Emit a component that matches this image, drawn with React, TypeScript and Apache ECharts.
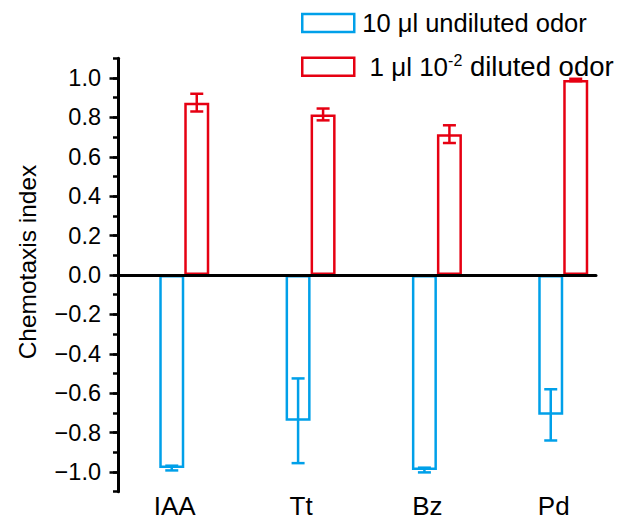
import React, { useEffect, useRef } from "react";
import * as echarts from "echarts";

const categories = ["IAA", "Tt", "Bz", "Pd"];
const undilutedName = "10 μl undiluted odor";
const dilutedName = "1 μl 10-2 diluted odor";
const undilutedMean = [-0.98, -0.74, -0.99, -0.71];
const undilutedErr = [0.012, 0.215, 0.012, 0.13];
const dilutedMean = [0.875, 0.815, 0.715, 0.99];
const dilutedErr = [0.045, 0.03, 0.045, 0.006];

const BLUE = "#00a0e9";
const RED = "#e60012";
const FONT = "'Liberation Sans', Arial, sans-serif";
const BAR_W = 25;

function errorSeries(means: number[], errs: number[], color: string, offset: number) {
  return {
    type: "custom",
    xAxisIndex: 2,
    yAxisIndex: 2,
    z: 5,
    encode: { x: 0, y: 1 },
    data: means.map((m, i) => [i, m, errs[i]]),
    renderItem: (params: any, api: any) => {
      const x = api.value(0);
      const v = api.value(1);
      const e = api.value(2);
      const top = api.coord([x, v + e]);
      const bot = api.coord([x, v - e]);
      const cx = top[0] + offset;
      const hw = 6.5;
      const style = { stroke: color, lineWidth: 2.5, fill: "none" };
      return {
        type: "group",
        children: [
          { type: "line", shape: { x1: cx, y1: top[1], x2: cx, y2: bot[1] }, style },
          { type: "line", shape: { x1: cx - hw, y1: top[1], x2: cx + hw, y2: top[1] }, style },
          { type: "line", shape: { x1: cx - hw, y1: bot[1], x2: cx + hw, y2: bot[1] }, style },
        ],
      };
    },
  };
}

export default function App() {
  const ref = useRef<HTMLDivElement>(null);
  useEffect(() => {
    if (!ref.current) return;
    const chart = echarts.init(ref.current, undefined, { renderer: "svg" });
    const option: any = {
      animation: false,
      backgroundColor: "#ffffff",
      textStyle: { fontFamily: FONT },
      grid: [
        { left: 118, right: 35, top: 58.3, height: 433.4 },
        { left: 118, right: 35, top: 78, height: 394 },
        { left: 121.1, right: 4.6, top: 78, height: 394 },
      ],
      xAxis: [
        {
          gridIndex: 0,
          type: "category",
          data: categories,
          z: 10,
          axisLine: { show: true, onZero: true, lineStyle: { color: "#000", width: 3 } },
          axisTick: { show: false },
          axisLabel: { show: false },
          splitLine: { show: false },
        },
        { gridIndex: 1, type: "category", data: categories, show: false },
        {
          gridIndex: 2,
          type: "category",
          data: categories,
          position: "bottom",
          axisLine: { show: false, onZero: false },
          axisTick: { show: false },
          axisLabel: {
            fontSize: 26,
            color: "#000",
            fontFamily: FONT,
            margin: 21,
            padding: [0, 19, 0, 0],
          },
          splitLine: { show: false },
        },
      ],
      yAxis: [
        {
          gridIndex: 0,
          type: "value",
          min: -1.1,
          max: 1.1,
          interval: 0.1,
          z: 10,
          axisLine: { show: true, lineStyle: { color: "#000", width: 3 } },
          axisTick: { show: true, length: 5, lineStyle: { color: "#000", width: 2.5 } },
          axisLabel: { show: false },
          splitLine: { show: false },
        },
        {
          gridIndex: 1,
          type: "value",
          min: -1,
          max: 1,
          interval: 0.2,
          z: 10,
          axisLine: { show: false },
          axisTick: { show: true, length: 8.5, lineStyle: { color: "#000", width: 2.5 } },
          axisLabel: {
            fontSize: 23.5,
            color: "#000",
            fontFamily: FONT,
            margin: 17,
            formatter: (v: number) =>
              Math.abs(v) < 1e-9 ? "0.0" : v < 0 ? "\u2212" + Math.abs(v).toFixed(1) : v.toFixed(1),
          },
          splitLine: { show: false },
        },
        { gridIndex: 2, type: "value", min: -1, max: 1, show: false },
      ],
      legend: [
        {
          data: [
            {
              name: undilutedName,
              icon: "rect",
              itemStyle: { color: "#fff", borderColor: BLUE, borderWidth: 2.5 },
            },
          ],
          orient: "vertical",
          left: 301,
          top: 10,
          itemWidth: 52,
          itemHeight: 18,
          padding: 0,
          selectedMode: false,
          textStyle: { fontSize: 25.5, color: "#000", fontFamily: FONT, padding: [0, 0, 0, 3] },
        },
        {
          data: [
            {
              name: dilutedName,
              icon: "rect",
              itemStyle: { color: "#fff", borderColor: RED, borderWidth: 2.5 },
            },
          ],
          orient: "vertical",
          left: 301,
          top: 52.7,
          itemWidth: 52,
          itemHeight: 18,
          padding: 0,
          selectedMode: false,
          formatter: () => "{a| 1 μl 10}{sup|-2}{b| diluted odor}",
          textStyle: {
            fontSize: 25.5,
            color: "#000",
            fontFamily: FONT,
            padding: [0, 0, 0, 3],
            rich: {
              a: { fontSize: 26, color: "#000", fontFamily: FONT },
              sup: { fontSize: 16, color: "#000", fontFamily: FONT, padding: [0, 0, 12, 0] },
              b: { fontSize: 27.5, color: "#000", fontFamily: FONT },
            },
          },
        },
      ],
      graphic: [
        {
          type: "text",
          x: 27,
          y: 262,
          rotation: Math.PI / 2,
          style: {
            text: "Chemotaxis index",
            fontSize: 24.5,
            fontFamily: FONT,
            fill: "#000",
            textAlign: "center",
            textVerticalAlign: "middle",
          },
        },
      ],
      series: [
        {
          name: undilutedName,
          type: "bar",
          xAxisIndex: 2,
          yAxisIndex: 2,
          data: undilutedMean,
          barWidth: BAR_W,
          barGap: "0%",
          itemStyle: { color: "#fff", borderColor: BLUE, borderWidth: 2.5 },
        },
        {
          name: dilutedName,
          type: "bar",
          xAxisIndex: 2,
          yAxisIndex: 2,
          data: dilutedMean,
          barWidth: BAR_W,
          barGap: "0%",
          itemStyle: { color: "#fff", borderColor: RED, borderWidth: 2.5 },
        },
        errorSeries(undilutedMean, undilutedErr, BLUE, -BAR_W / 2),
        errorSeries(dilutedMean, dilutedErr, RED, BAR_W / 2),
      ],
    };
    chart.setOption(option);
    return () => chart.dispose();
  }, []);
  return (
    <div
      ref={ref}
      style={{ position: "fixed", left: 0, top: 0, width: 631, height: 522 }}
    />
  );
}
